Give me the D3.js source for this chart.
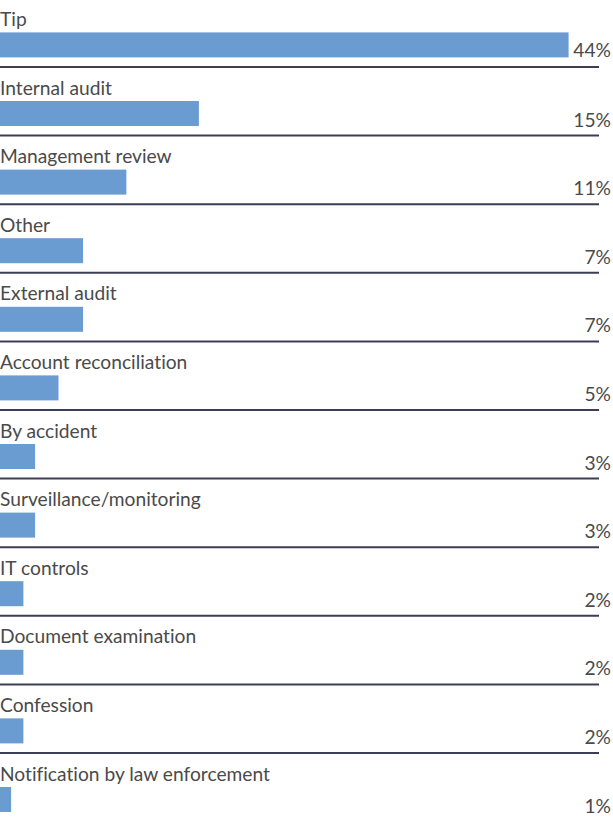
<!DOCTYPE html>
<html>
<head>
<meta charset="utf-8">
<script src="https://cdn.jsdelivr.net/npm/d3@7"></script>
<style>
  html, body { margin: 0; padding: 0; background: #ffffff; }
  svg { display: block; }
  text { font-family: Lato, "Open Sans", sans-serif; fill: #4a4a4a; font-variant-ligatures: none; }
</style>
</head>
<body>
<svg id="chart" width="613" height="820"></svg>
<script>
// Detection methods (categories, top to bottom)
const categories = [
  "Tip",
  "Internal audit",
  "Management review",
  "Other",
  "External audit",
  "Account reconciliation",
  "By accident",
  "Surveillance/monitoring",
  "IT controls",
  "Document examination",
  "Confession",
  "Notification by law enforcement"
];
// Printed percentage labels
const valueLabels = [44, 15, 11, 7, 7, 5, 3, 3, 2, 2, 2, 1];
// Bar lengths as drawn in the picture (percent units)
const barValues = [48.6, 17.0, 10.8, 7.1, 7.1, 5.0, 3.0, 3.0, 2.0, 2.0, 2.0, 0.95];

const W = 613, H = 820;
const svg = d3.select("#chart");

const x = d3.scaleLinear().domain([0, 51.2]).range([0, 599]);
const y = d3.scaleBand().domain(categories).range([-1.6, 821.6]).padding(0);
const band = y.bandwidth();
const barTop = 34, barH = 25;

const rows = svg.selectAll("g.row")
  .data(categories)
  .join("g")
  .attr("class", "row")
  .attr("transform", d => `translate(0,${y(d)})`);

// bars
rows.append("rect")
  .attr("x", x(0))
  .attr("y", barTop)
  .attr("height", barH)
  .attr("width", (d, i) => x(barValues[i]) - x(0))
  .attr("fill", "#6a9bd1");

// category labels
rows.append("text")
  .attr("x", 0)
  .attr("y", 27.5)
  .attr("font-size", 19.2)
  .text(d => d);

// value labels
rows.append("text")
  .attr("x", 611)
  .attr("y", (d, i) => x(barValues[i]) > 500 ? barTop + barH : band - 9)
  .attr("text-anchor", "end")
  .attr("font-size", 19.2)
  .text((d, i) => valueLabels[i] + "%");

// separators
rows.append("line")
  .attr("x1", 0)
  .attr("x2", 599)
  .attr("y1", band)
  .attr("y2", band)
  .attr("stroke", "#3b3e56")
  .attr("stroke-width", 2);
</script>
</body>
</html>
